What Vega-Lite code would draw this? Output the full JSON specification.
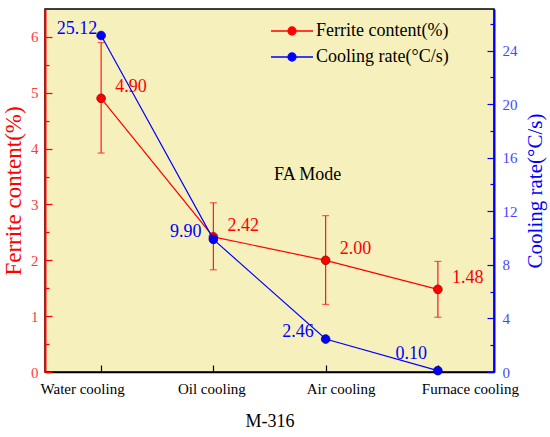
{
  "$schema": "https://vega.github.io/schema/vega-lite/v6.json",
  "width": 449,
  "height": 363,
  "autosize": {"type": "none"},
  "padding": {"left": 45, "top": 9, "right": 56, "bottom": 65},
  "background": "white",
  "data": {
    "values": [
      {"method": "Water cooling", "ferrite": 4.90, "lo": 3.92, "hi": 5.90, "rate": 25.12},
      {"method": "Oil cooling", "ferrite": 2.42, "lo": 1.83, "hi": 3.03, "rate": 9.90},
      {"method": "Air cooling", "ferrite": 2.00, "lo": 1.21, "hi": 2.80, "rate": 2.46},
      {"method": "Furnace cooling", "ferrite": 1.48, "lo": 0.98, "hi": 1.98, "rate": 0.10}
    ]
  },
  "encoding": {
    "x": {
      "field": "method",
      "type": "nominal",
      "sort": ["Water cooling", "Oil cooling", "Air cooling", "Furnace cooling"],
      "scale": {"type": "point", "padding": 0.5},
      "title": "M-316",
      "axis": {
        "orient": "bottom",
        "domainColor": "black",
        "domainWidth": 1.5,
        "tickColor": "black",
        "tickWidth": 1.2,
        "tickSize": -7,
        "labelAngle": 0,
        "labelFont": "Liberation Serif",
        "labelFontSize": 15,
        "labelColor": "black",
        "labelPadding": 16,
        "labelOffset": {"expr": "datum.index * 51 - 19"},
        "titleFont": "Liberation Serif",
        "titleFontSize": 18,
        "titleColor": "black",
        "titlePadding": 16
      }
    }
  },
  "layer": [
    {
      "encoding": {
        "y": {
          "field": "ferrite",
          "type": "quantitative",
          "title": "Ferrite content(%)",
          "scale": {"domain": [0, 6.5], "nice": false, "zero": true},
          "axis": {
            "orient": "left",
            "values": [0, 0.5, 1, 1.5, 2, 2.5, 3, 3.5, 4, 4.5, 5, 5.5, 6],
            "labelExpr": "datum.value % 1 === 0 ? format(datum.value, 'd') : ''",
            "tickSize": {"condition": {"test": "datum.value % 1 !== 0", "value": -4}, "value": -7},
            "tickColor": "#ff0000",
            "tickWidth": 1.2,
            "domainColor": "#ff0000",
            "domainWidth": 2,
            "labelFont": "Liberation Serif",
            "labelColor": "#ff3b3b",
            "labelFontSize": 15,
            "labelPadding": 14,
            "titleFont": "Liberation Serif",
            "titleColor": "#ff0000",
            "titleFontSize": 23,
            "titlePadding": 5
          }
        }
      },
      "layer": [
        {
          "mark": {"type": "rule", "color": "#ff1a1a", "strokeWidth": 1.2},
          "encoding": {
            "y": {"field": "lo", "type": "quantitative", "title": "Ferrite content(%)"},
            "y2": {"field": "hi"}
          }
        },
        {
          "mark": {"type": "tick", "color": "#ff1a1a", "size": 7, "thickness": 1.2, "orient": "horizontal"},
          "encoding": {"y": {"field": "lo", "type": "quantitative", "title": "Ferrite content(%)"}}
        },
        {
          "mark": {"type": "tick", "color": "#ff1a1a", "size": 7, "thickness": 1.2, "orient": "horizontal"},
          "encoding": {"y": {"field": "hi", "type": "quantitative", "title": "Ferrite content(%)"}}
        },
        {
          "mark": {"type": "line", "strokeWidth": 1.2},
          "encoding": {
            "color": {
              "datum": "Ferrite content(%)",
              "type": "nominal",
              "scale": {"domain": ["Ferrite content(%)", "Cooling rate(°C/s)"], "range": ["#ff0000", "#0000ff"]},
              "legend": {
                "orient": "none",
                "legendX": 238,
                "legendY": 13,
                "title": null,
                "padding": 0,
                "symbolType": "M-3,0H3M0.57,0A0.57,0.57 0 1,1 -0.57,0A0.57,0.57 0 1,1 0.57,0Z",
                "symbolSize": 196,
                "symbolStrokeWidth": 1.3,
                "labelFont": "Liberation Serif",
                "labelFontSize": 18,
                "labelColor": "black",
                "labelOffset": 15,
                "rowPadding": 8
              }
            }
          }
        },
        {
          "mark": {"type": "point", "filled": true, "size": 75, "opacity": 1, "stroke": "#a00000", "strokeWidth": 0.8},
          "encoding": {"color": {"datum": "Ferrite content(%)", "type": "nominal"}}
        },
        {
          "mark": {"type": "text", "align": "left", "baseline": "middle", "dx": 14, "dy": -11, "fontSize": 18, "font": "Liberation Serif", "color": "#ff0000"},
          "encoding": {"text": {"field": "ferrite", "type": "quantitative", "format": ".2f"}}
        },
        {
          "transform": [{"filter": "datum.method === 'Air cooling'"}],
          "mark": {"type": "text", "text": "FA Mode", "align": "center", "baseline": "middle", "dx": -18, "fontSize": 18, "font": "Liberation Serif", "color": "black"},
          "encoding": {
            "y": {"datum": 3.53, "type": "quantitative"}
          }
        }
      ]
    },
    {
      "encoding": {
        "y": {
          "field": "rate",
          "type": "quantitative",
          "title": "Cooling rate(°C/s)",
          "scale": {"domain": [0, 27.1], "nice": false, "zero": true},
          "axis": {
            "orient": "right",
            "values": [0, 2, 4, 6, 8, 10, 12, 14, 16, 18, 20, 22, 24, 26],
            "labelExpr": "datum.value % 4 === 0 ? datum.label : ''",
            "tickSize": {"condition": {"test": "datum.value % 4 !== 0", "value": -4}, "value": -7},
            "tickColor": "#0000ff",
            "tickWidth": 1.2,
            "domainColor": "#0000ff",
            "domainWidth": 2,
            "labelFont": "Liberation Serif",
            "labelColor": "#4747ff",
            "labelFontSize": 15,
            "labelPadding": 15,
            "titleFont": "Liberation Serif",
            "titleColor": "#0000ff",
            "titleFontSize": 21,
            "titleAngle": 270,
            "titlePadding": 28
          }
        }
      },
      "layer": [
        {
          "mark": {"type": "line", "strokeWidth": 1.2},
          "encoding": {"color": {"datum": "Cooling rate(°C/s)", "type": "nominal"}}
        },
        {
          "mark": {"type": "point", "filled": true, "size": 75, "opacity": 1, "stroke": "#00008b", "strokeWidth": 0.8},
          "encoding": {"color": {"datum": "Cooling rate(°C/s)", "type": "nominal"}}
        },
        {
          "transform": [{"filter": "datum.method === 'Water cooling'"}],
          "mark": {"type": "text", "align": "right", "baseline": "middle", "dx": -4, "dy": -7, "fontSize": 18, "font": "Liberation Serif", "color": "#0000ff"},
          "encoding": {"text": {"field": "rate", "type": "quantitative", "format": ".2f"}}
        },
        {
          "transform": [{"filter": "datum.method === 'Oil cooling' || datum.method === 'Air cooling'"}],
          "mark": {"type": "text", "align": "right", "baseline": "middle", "dx": -12, "dy": -7, "fontSize": 18, "font": "Liberation Serif", "color": "#0000ff"},
          "encoding": {"text": {"field": "rate", "type": "quantitative", "format": ".2f"}}
        },
        {
          "transform": [{"filter": "datum.method === 'Furnace cooling'"}],
          "mark": {"type": "text", "align": "right", "baseline": "middle", "dx": -11, "dy": -17, "fontSize": 18, "font": "Liberation Serif", "color": "#0000ff"},
          "encoding": {"text": {"field": "rate", "type": "quantitative", "format": ".2f"}}
        }
      ]
    }
  ],
  "resolve": {"scale": {"y": "independent"}},
  "config": {
    "font": "Liberation Serif",
    "view": {"fill": "#f6f0bd", "stroke": "black", "strokeWidth": 1.5},
    "axis": {"grid": false, "labelFont": "Liberation Serif", "titleFont": "Liberation Serif", "titleFontWeight": "normal"},
    "text": {"font": "Liberation Serif"}
  }
}
